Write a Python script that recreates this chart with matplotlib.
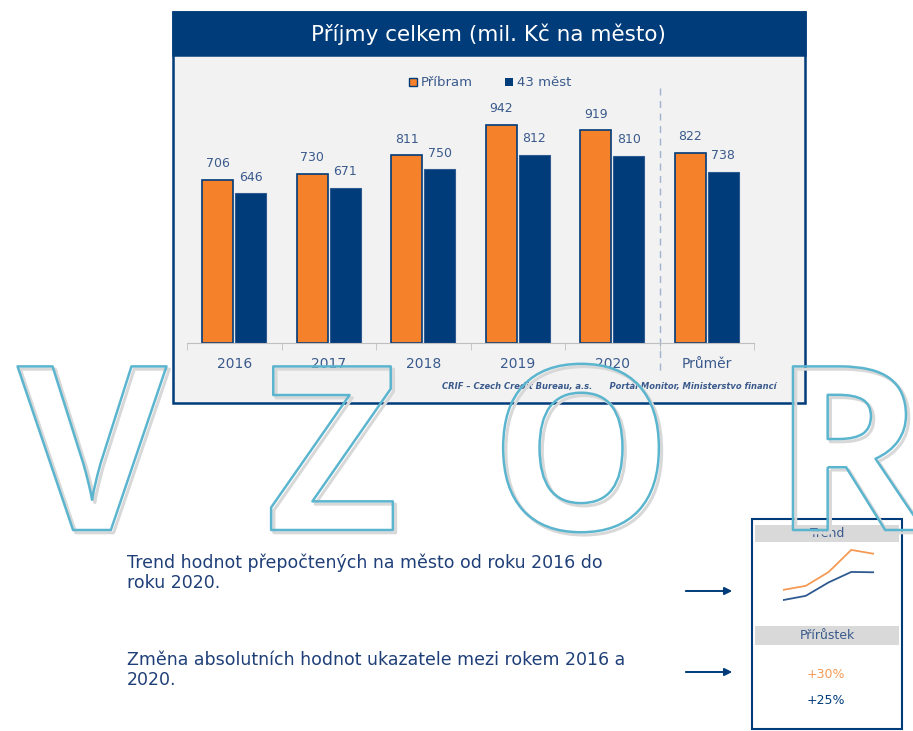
import matplotlib.pyplot as plt
import matplotlib.patheffects as pe
from matplotlib.patches import Rectangle, FancyArrowPatch, Patch

# data
categories = ["2016", "2017", "2018", "2019", "2020", "Průměr"]
pribram = [706, 730, 811, 942, 919, 822]
mest_43 = [646, 671, 750, 812, 810, 738]
series_names = ["Příbram", "43 měst"]
growth = ["+30%", "+25%"]

W, H = 913, 731
NAVY = "#003B7A"
ORANGE = "#F5822A"
LABEL = "#3A5A8C"
TEXT = "#1F3F78"


def fx(x):
    return x / W


def fy(y):
    return 1 - y / H


def rect(x0, y0, x1, y1):
    # pixel box -> figure fraction [left, bottom, width, height]
    return [fx(x0), fy(y1), (x1 - x0) / W, (y1 - y0) / H]


fig = plt.figure(figsize=(W / 100, H / 100), dpi=100)
fig.patch.set_facecolor("white")

# chart panel + title bar
fig.patches.append(Rectangle((fx(173), fy(403)), 632 / W, 391 / H, transform=fig.transFigure,
                             facecolor="#F2F2F2", edgecolor=NAVY, lw=1.8, zorder=-2))
fig.patches.append(Rectangle((fx(173), fy(55)), 632 / W, 43 / H, transform=fig.transFigure,
                             facecolor=NAVY, edgecolor=NAVY, lw=1.8, zorder=-1))
fig.text(fx(488), fy(34), "Příjmy celkem (mil. Kč na město)", color="white",
         fontsize=15.5, ha="center", va="center")

# bars
ax = fig.add_axes(rect(187, 100, 754, 343))
ax.set_facecolor("none")
x = list(range(len(categories)))
w = 0.33
b1 = ax.bar([i - w / 2 - 0.01 for i in x], pribram, w, color=ORANGE, edgecolor=NAVY, lw=1.2,
            label=series_names[0])
b2 = ax.bar([i + w / 2 + 0.01 for i in x], mest_43, w, color=NAVY, edgecolor="#2E5A90", lw=0.8,
            label=series_names[1])
for bars in (b1, b2):
    ax.bar_label(bars, padding=7, fontsize=9, color=LABEL)
ax.set_xlim(-0.5, 5.5)
ax.set_ylim(0, 1050)
ax.set_yticks([])
for s in ("top", "left", "right"):
    ax.spines[s].set_visible(False)
ax.spines["bottom"].set_color("#BFBFBF")
ax.set_xticks(x)
ax.set_xticklabels(categories, fontsize=10, color=LABEL)
ax.tick_params(axis="x", which="major", length=0, pad=10)
ax.set_xticks([i - 0.5 for i in range(len(categories) + 1)], minor=True)
ax.tick_params(axis="x", which="minor", length=5, color="#BFBFBF", direction="out")
ax.plot([4.5, 4.5], [-0.11, 1.06], transform=ax.get_xaxis_transform(), clip_on=False,
        ls=(0, (5, 4)), color="#9DB3CF", lw=1)

leg = fig.legend(handles=[Patch(facecolor=ORANGE, edgecolor=NAVY), Patch(facecolor=NAVY)],
                 labels=series_names, loc="center", bbox_to_anchor=(fx(490), fy(83)), ncol=2,
                 frameon=False, fontsize=9.5, handlelength=0.6, handleheight=0.6,
                 handletextpad=0.3, columnspacing=2.4)
for t in leg.get_texts():
    t.set_color(LABEL)

fig.text(fx(776), fy(386), "CRIF – Czech Credit Bureau, a.s.      Portál Monitor, Ministerstvo financí",
         fontsize=6, style="italic", weight="bold", color=LABEL, ha="right", va="center")

# explanatory texts and arrows
fig.text(fx(127), fy(573), "Trend hodnot přepočtených na město od roku 2016 do\nroku 2020.",
         fontsize=12.5, color=TEXT, ha="left", va="center", linespacing=1.15)
fig.text(fx(127), fy(670), "Změna absolutních hodnot ukazatele mezi rokem 2016 a\n2020.",
         fontsize=12.5, color=TEXT, ha="left", va="center", linespacing=1.15)
for yy in (591, 672):
    fig.patches.append(FancyArrowPatch((fx(683), fy(yy)), (fx(735), fy(yy)), transform=fig.transFigure,
                                       arrowstyle="-|>", mutation_scale=11, color=NAVY, lw=1.4))

# trend box
fig.patches.append(Rectangle((fx(752), fy(729)), 150 / W, 210 / H, transform=fig.transFigure,
                             facecolor="white", edgecolor=NAVY, lw=1.5, zorder=-1))
for y0, y1, label in ((525, 542, "Trend"), (626, 645, "Přírůstek")):
    fig.patches.append(Rectangle((fx(755), fy(y1)), 144 / W, (y1 - y0) / H, transform=fig.transFigure,
                                 facecolor="#D9D9D9", edgecolor="none", zorder=-1))
    fig.text(fx(827), fy((y0 + y1) / 2), label, fontsize=9, color=LABEL, ha="center", va="center")

sp = fig.add_axes(rect(783, 545, 874, 605))
sp.plot(range(5), pribram[:5], color="#F59A55", lw=1.3)
sp.plot(range(5), mest_43[:5], color="#2E5A90", lw=1.3)
sp.set_xlim(0, 4)
sp.set_ylim(617, 971)
sp.axis("off")

fig.text(fx(826), fy(675), growth[0], fontsize=9, color="#F59A55", ha="center", va="center")
fig.text(fx(826), fy(701), growth[1], fontsize=9, color=NAVY, ha="center", va="center")

# watermark
effects = [pe.Stroke(offset=(2, -2), linewidth=2.2, foreground="#D8D8D8"),
           pe.Stroke(linewidth=1.8, foreground="#5BB5CF")]
for letter, cx in zip("VZOR", (92, 332, 581, 848)):
    fig.text(fx(cx), fy(530), letter, fontsize=165, family="Open Sans", weight="bold",
             color="none", ha="center", va="baseline", path_effects=effects, zorder=10)

fig.savefig("out.png", dpi=100)
